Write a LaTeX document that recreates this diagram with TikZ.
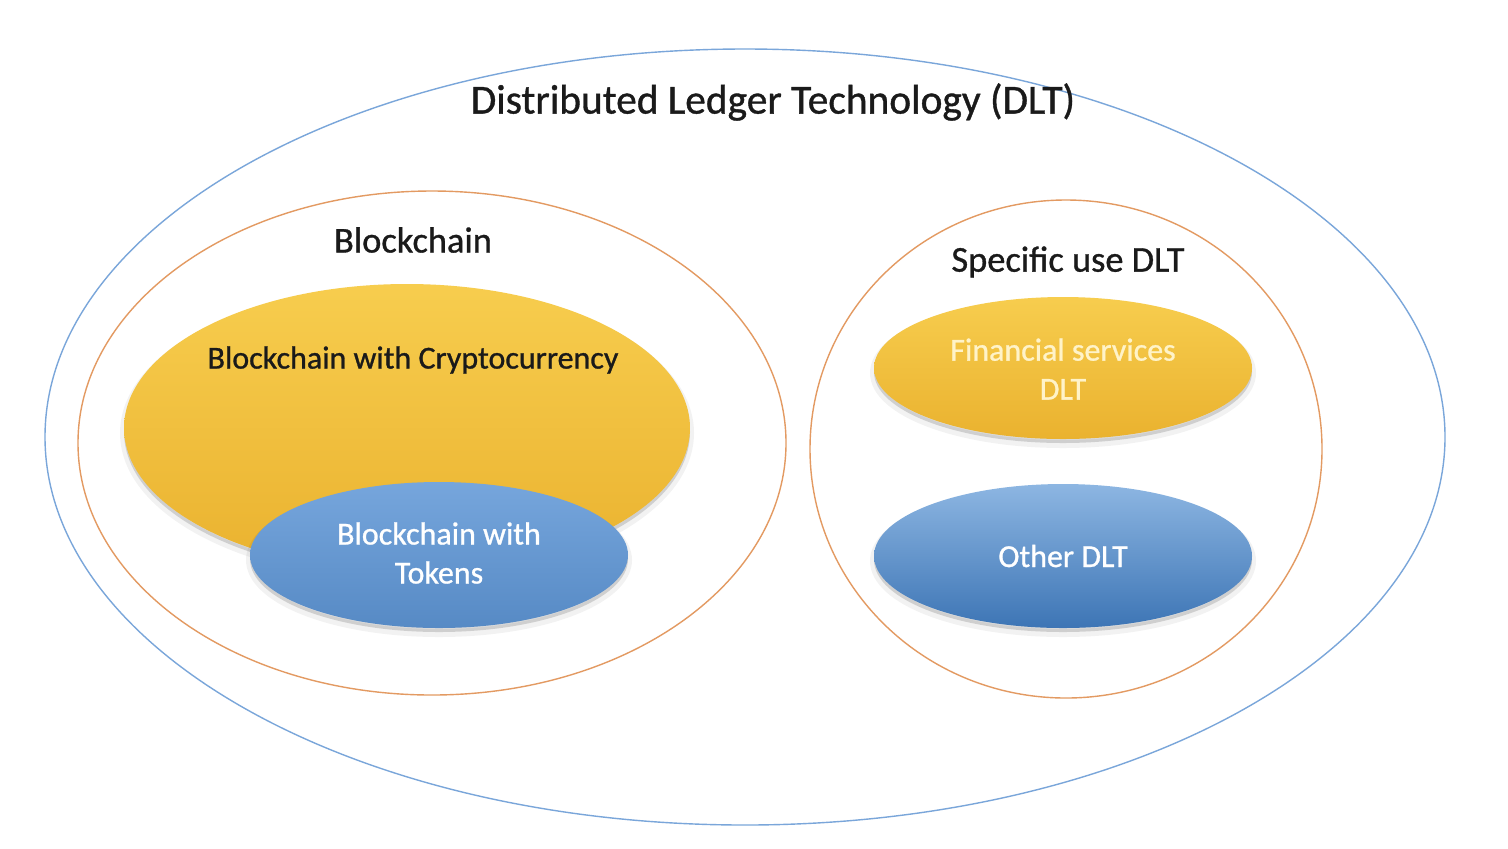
\documentclass[tikz,border=0pt]{standalone}
\usepackage{fontspec}
\setmainfont{Carlito}
\newfontfamily\semib{Carlito}[FakeBold=0.9]
\usetikzlibrary{shapes.geometric}
\definecolor{outerblue}{HTML}{7AA6DA}
\definecolor{ringorange}{HTML}{E39A62}
\definecolor{goldtop}{HTML}{F7CD4E}
\definecolor{goldbot}{HTML}{EAB22F}
\definecolor{bluetop}{HTML}{8DB6E2}
\definecolor{bluebot}{HTML}{3D75B5}
\definecolor{tokblue}{HTML}{5E96D6}
\definecolor{paleyellow}{HTML}{FFF3C8}
\definecolor{inktext}{HTML}{1A1A1A}
\tikzset{
  ring/.style={ellipse, draw, line width=0.7pt, inner sep=0pt},
  softshadow/.style={
    preaction={draw=black, line width=4pt, draw opacity=0.05, transform canvas={yshift=-2.5pt}},
    preaction={fill=black, fill opacity=0.14, transform canvas={yshift=-2pt}}},
  gold/.style={ellipse, inner sep=0pt, top color=goldtop, bottom color=goldbot, softshadow},
  bluegrad/.style={ellipse, inner sep=0pt, top color=bluetop, bottom color=bluebot, softshadow},
  labeltext/.style={text=inktext, font=\semib\fontsize{18.2}{21}\selectfont},
  intext/.style={font=\semib\fontsize{16}{19.5}\selectfont, align=center},
}
\begin{document}
\begin{tikzpicture}[x=0.5pt,y=-0.5pt]
\useasboundingbox[fill=white] (0,0) rectangle (1508,848);
% outer DLT ellipse
\node[ring, draw=outerblue, minimum width=700pt, minimum height=388pt] (dlt) at (745,437) {};
\node[text=inktext, font=\semib\fontsize{20.7}{24}\selectfont] (dltlabel) at (773,102) {Distributed Ledger Technology (DLT)};
% blockchain ring
\node[ring, draw=ringorange, minimum width=354pt, minimum height=252pt] (bc) at (432,443) {};
\node[labeltext] (bclabel) at (413,240) {Blockchain};
% crypto ellipse
\node[gold, minimum width=283pt, minimum height=144pt] (crypto) at (407,428) {};
\node[text=inktext, font=\semib\fontsize{16}{19}\selectfont] (cryptolabel) at (413,360) {Blockchain with Cryptocurrency};
% tokens ellipse
\node[ellipse, inner sep=0pt, top color=tokblue!85!white, bottom color=tokblue!92!black, softshadow,
  minimum width=189pt, minimum height=73pt] (tokens) at (439,555) {};
\node[intext, text=white] (tokenslabel) at (439,553) {Blockchain with\\Tokens};
% specific use ring
\node[ring, draw=ringorange, minimum width=256pt, minimum height=249pt] (spec) at (1066,449) {};
\node[labeltext] (speclabel) at (1068,262) {Specific use DLT};
% financial
\node[gold, minimum width=189pt, minimum height=71pt] (fin) at (1063,368) {};
\node[intext, text=paleyellow] (finlabel) at (1063,369) {Financial services\\DLT};
% other
\node[bluegrad, minimum width=189pt, minimum height=72pt] (other) at (1063,556) {};
\node[intext, text=white] (otherlabel) at (1063,556) {Other DLT};
\end{tikzpicture}
\end{document}
